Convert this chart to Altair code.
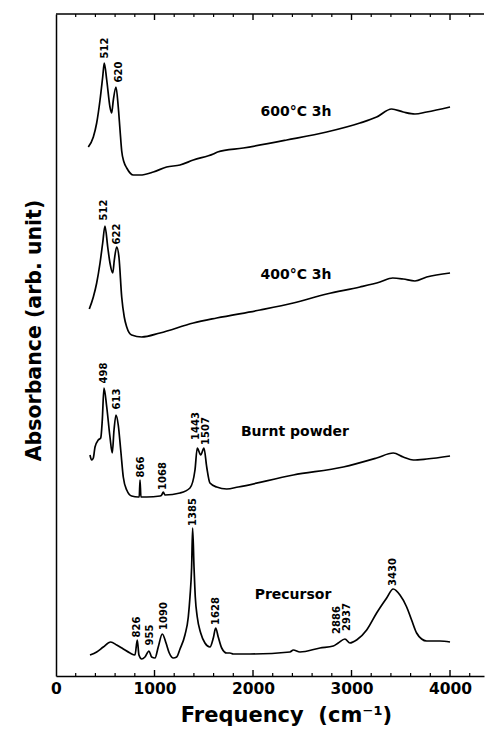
import altair as alt
import pandas as pd

FONT = "DejaVu Sans"

# ---- spectra (frequency in cm-1, absorbance in arbitrary units) ----
f600 = [328, 379, 413, 447, 474, 490, 515, 548, 565, 582, 609, 632, 650, 667, 690, 718, 785, 853, 988, 1123,
        1259, 1394, 1597, 1640, 1901, 2342, 2748, 3086, 3255, 3407, 3525, 3644, 3763, 4000]
a600 = [529, 539, 553, 576, 599, 613, 596, 569, 563, 576, 589, 569, 546, 525, 514, 508, 501, 501, 504, 509,
        511, 516, 522, 524, 528, 536, 544, 553, 559, 567, 564, 562, 564, 569]

f400 = [338, 379, 413, 447, 474, 497, 525, 548, 576, 592, 616, 639, 667, 693, 718, 768, 870, 1056, 1394, 1631,
        2071, 2409, 2748, 3086, 3289, 3418, 3525, 3644, 3763, 4000]
a400 = [367, 379, 393, 413, 433, 450, 429, 413, 403, 416, 429, 419, 379, 359, 349, 341, 339, 343, 353, 358,
        366, 373, 382, 389, 394, 398, 397, 395, 399, 403]

fburnt = [345, 362, 379, 396, 429, 454, 470, 487, 515, 548, 571, 589, 609, 632, 657, 683, 718, 768, 835, 845,
          853, 862, 921, 1056, 1073, 1089, 1106, 1259, 1360, 1411, 1434, 1469, 1502, 1530, 1563, 1631, 1733, 1850,
          2409, 2916, 3255, 3424, 3525, 3627, 3763, 4000]
aburnt = [221, 216, 218, 229, 236, 238, 256, 288, 269, 239, 223, 246, 261, 251, 226, 199, 186, 180, 179, 179,
          196, 179, 179, 180, 181, 184, 181, 183, 188, 206, 228, 221, 228, 209, 193, 189, 187, 189,
          201, 209, 218, 223, 219, 216, 217, 220]

fprec = [345, 413, 480, 555, 616, 683, 751, 802, 825, 842, 870, 903, 944, 971, 1005, 1038, 1079, 1117, 1150, 1191,
         1225, 1259, 1309, 1343, 1360, 1377, 1387, 1401, 1414, 1434, 1469, 1512, 1563, 1597, 1621, 1647, 1682, 1733,
         1766, 1800, 1868, 1969, 2375, 2409, 2477, 2680, 2815, 2865, 2933, 2984, 3052, 3154, 3255, 3357, 3423, 3492,
         3560, 3610, 3661, 3712, 3763, 3898, 4000]
aprec = [21, 24, 29, 34, 31, 27, 23, 21, 36, 21, 17, 19, 25, 19, 18, 29, 42, 33, 23, 18,
         19, 27, 41, 59, 79, 109, 148, 109, 79, 59, 43, 33, 29, 38, 48, 39, 28, 23,
         23, 22, 22, 22, 24, 26, 24, 28, 30, 33, 37, 33, 36, 46, 63, 78, 87, 81,
         69, 56, 43, 37, 35, 35, 34]

# ---- peak annotations ----
peak_text = ["512", "620", "512", "622", "498", "613", "866", "1068", "1443", "1507",
             "826", "955", "1090", "1385", "1628", "2886", "2937", "3430"]
peak_f = [497, 640, 492, 619, 487, 624, 858, 1091, 1421, 1523, 827, 954, 1096, 1391, 1624, 2849, 2957, 3424]
peak_a = [628, 604, 466, 442, 303, 277, 209, 200, 250, 245, 49, 41, 60, 164, 65, 56, 59, 104]

# ---- series names ----
series_names = ["600°C 3h", "400°C 3h", "Burnt powder", "Precursor"]
series_f = [2436, 2436, 2426, 2406]
series_a = [564, 401, 244, 81]

# ---- axis ticks ----
x_labels = [0, 1000, 2000, 3000, 4000]
minor_ticks = [200, 400, 600, 800, 1200, 1400, 1600, 1800, 2200, 2400, 2600, 2800,
               3200, 3400, 3600, 3800, 4200]
major_ticks = [1000, 2000, 3000, 4000]

W, H = 428, 662
XMAX = 4345

rows = []
for name, fs, as_ in [("600", f600, a600), ("400", f400, a400), ("burnt", fburnt, aburnt), ("prec", fprec, aprec)]:
    for f, a in zip(fs, as_):
        rows.append({"series": name, "f": f, "a": a})
spec = pd.DataFrame(rows)
peaks = pd.DataFrame({"f": peak_f, "a": peak_a, "t": peak_text})
names = pd.DataFrame({"f": series_f, "a": series_a, "t": series_names})
minor = pd.DataFrame({"f": minor_ticks})
major = pd.DataFrame({"f": major_ticks})

xs = alt.Scale(domain=[0, XMAX], nice=False, zero=False)
ys = alt.Scale(domain=[0, H], nice=False, zero=False)

x_axis = alt.Axis(
    values=x_labels, format="d", ticks=False, grid=False, domain=True, domainColor="black", domainWidth=1.5,
    labelFont=FONT, labelFontSize=15.5, labelFontWeight="bold", labelColor="black", labelPadding=5,
    labelFlush=False,
    title="Frequency\u00a0\u00a0(cm⁻¹)", titleFont=FONT, titleFontSize=21, titleFontWeight="bold",
    titleColor="black", titleX=230, titleY=45, titleBaseline="alphabetic", titleAlign="center")
y_axis = alt.Axis(
    labels=False, ticks=False, grid=False, domain=True, domainColor="black", domainWidth=1.5,
    title="Absorbance (arb. unit)", titleFont=FONT, titleFontSize=20.5, titleFontWeight="bold",
    titleColor="black", titleX=-22, titleY=316, titleAngle=270, titleAlign="center",
    titleBaseline="middle")

X = alt.X("f:Q", scale=xs, axis=x_axis)
Y = alt.Y("a:Q", scale=ys, axis=y_axis)

lines = alt.Chart(spec).mark_line(color="black", strokeWidth=1.7, interpolate="monotone").encode(
    x=X, y=Y, detail="series:N")

peak_labels = alt.Chart(peaks).mark_text(
    angle=270, align="center", baseline="middle", font=FONT, fontSize=10, fontWeight="bold", color="black"
).encode(x=X, y=Y, text="t:N")

name_labels = alt.Chart(names).mark_text(
    align="center", baseline="middle", font=FONT, fontSize=14, fontWeight="bold", color="black"
).encode(x=X, y=Y, text="t:N")

bot_minor = alt.Chart(minor).mark_rule(color="black", strokeWidth=1.2).encode(
    x=X, y=alt.value(H), y2=alt.value(H - 3))
bot_major = alt.Chart(major).mark_rule(color="black", strokeWidth=1.4).encode(
    x=X, y=alt.value(H), y2=alt.value(H - 6))
top_minor = alt.Chart(minor).mark_rule(color="black", strokeWidth=1.2).encode(
    x=X, y=alt.value(0), y2=alt.value(3))
top_major = alt.Chart(major).mark_rule(color="black", strokeWidth=1.4).encode(
    x=X, y=alt.value(0), y2=alt.value(6))
top_line = alt.Chart(pd.DataFrame({"f": [0]})).mark_rule(color="black", strokeWidth=1.5).encode(
    x=alt.value(0), x2=alt.value(W), y=alt.value(0))

chart = alt.layer(
    lines, peak_labels, name_labels, bot_minor, bot_major, top_minor, top_major, top_line
).properties(
    width=W, height=H,
    autosize=alt.AutoSizeParams(type="none"),
    padding={"left": 48, "top": 6, "right": 1, "bottom": 51},
    background="white",
).configure_view(stroke=None)

chart.save("out.html", embed_options={"renderer": "svg", "actions": False})
